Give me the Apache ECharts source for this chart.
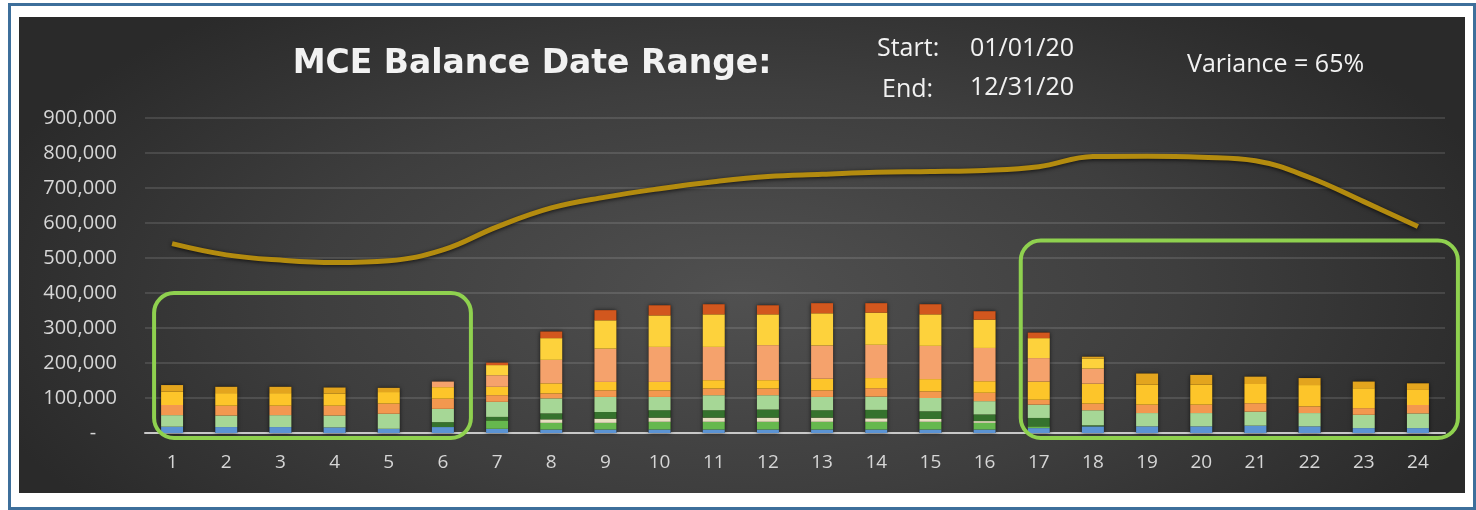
<!DOCTYPE html>
<html>
<head>
<meta charset="utf-8">
<title>MCE Balance Date Range</title>
<script src="https://cdn.jsdelivr.net/npm/echarts@6/dist/echarts.min.js"></script>
<style>
  html, body { margin: 0; padding: 0; background: #fff; width: 1476px; height: 510px; overflow: hidden; }
  #frame { position: absolute; left: 8px; top: 3px; width: 1462px; height: 501px; border: 3px solid #3d6f9b; background: #fff; }
  #chart {
    position: absolute; left: 19px; top: 17px; width: 1446px; height: 476px;
    background: radial-gradient(ellipse 55% 78% at 50% 58%, #505050 0%, #3e3e3e 55%, #2a2a2a 100%);
  }
</style>
</head>
<body>
<div id="frame"></div>
<div id="chart"></div>
<script>
// categories (periods)
const categories = ['1','2','3','4','5','6','7','8','9','10','11','12','13','14','15','16','17','18','19','20','21','22','23','24'];

// balance line
const balance = [541000, 509000, 494000, 487000, 492000, 523000, 589000, 643000, 674000, 698000, 718000, 733000,
                 739000, 745000, 747000, 750000, 761000, 790000, 791000, 788000, 778000, 730000, 661000, 590000];

// stacked segments, bottom to top
const segBlue       = [18000, 17000, 17000, 16000, 12000, 17000, 12000, 10000, 10000, 10000, 10000, 10000, 10000, 10000, 10000, 10000, 14000, 19000, 19000, 19000, 21000, 19000, 14000, 14000];
const segGreen      = [0, 0, 0, 0, 0, 0, 24000, 19000, 19000, 22000, 22000, 22000, 22000, 22000, 22000, 19000, 5000, 0, 0, 0, 0, 0, 0, 0];
const segCream      = [0, 0, 0, 0, 0, 0, 0, 10000, 12000, 12000, 12000, 12000, 12000, 10000, 8000, 5000, 0, 0, 0, 0, 0, 0, 0, 0];
const segDarkGreen  = [0, 0, 0, 0, 0, 14000, 10000, 17000, 19000, 21000, 21000, 23000, 21000, 24000, 22000, 19000, 24000, 3000, 0, 0, 0, 0, 0, 0];
const segLightGreen = [33000, 33000, 34000, 34000, 43000, 38000, 43000, 43000, 43000, 38000, 43000, 41000, 38000, 38000, 38000, 38000, 38000, 43000, 38000, 38000, 40000, 38000, 38000, 42000];
const segOrange     = [29000, 28000, 27000, 28000, 29000, 29000, 19000, 14000, 19000, 19000, 19000, 19000, 19000, 24000, 19000, 24000, 14000, 19000, 24000, 24000, 24000, 19000, 19000, 24000];
const segGold       = [38000, 36000, 36000, 35000, 33000, 33000, 24000, 29000, 24000, 24000, 24000, 24000, 33000, 29000, 35000, 33000, 52000, 57000, 57000, 57000, 55000, 61000, 57000, 43000];
const segPeach      = [0, 0, 0, 0, 0, 16000, 33000, 67000, 95000, 100000, 95000, 100000, 95000, 95000, 95000, 95000, 67000, 43000, 0, 0, 0, 0, 0, 0];
const segYellow     = [0, 0, 0, 0, 0, 0, 29000, 62000, 81000, 90000, 93000, 88000, 92000, 92000, 90000, 81000, 57000, 29000, 0, 0, 0, 0, 0, 0];
const segAmber      = [19000, 18000, 18000, 17000, 12000, 0, 0, 0, 0, 0, 0, 0, 0, 0, 0, 0, 0, 5000, 32000, 28000, 21000, 20000, 19000, 19000];
const segRust       = [0, 0, 0, 0, 0, 0, 7000, 19000, 29000, 29000, 29000, 26000, 29000, 27000, 29000, 24000, 16000, 0, 0, 0, 0, 0, 0, 0];

// y axis ticks
const yMin = 0, yMax = 900000, yStep = 100000;

// highlighted period groups (1-based category numbers, top value of box)
const highlightGroups = [
  { from: 1, to: 6, top: 400000 },
  { from: 17, to: 24, top: 550000 }
];

const segments = [
  { name: 'Blue', color: '#5b93d3', data: segBlue },
  { name: 'Green', color: '#66b84e', data: segGreen },
  { name: 'Cream', color: '#e6e0c0', data: segCream },
  { name: 'Dark Green', color: '#35722d', data: segDarkGreen },
  { name: 'Light Green', color: '#a6d796', data: segLightGreen },
  { name: 'Orange', color: '#f3984f', data: segOrange },
  { name: 'Gold', color: '#fdc52a', data: segGold },
  { name: 'Peach', color: '#f5a26c', data: segPeach },
  { name: 'Yellow', color: '#fdd23c', data: segYellow },
  { name: 'Amber', color: '#e3a51e', data: segAmber },
  { name: 'Rust', color: '#d2571e', data: segRust }
];

// stack totals, used for the dark outline behind each column
const totals = categories.map(function (c, i) {
  return segments.reduce(function (sum, s) { return sum + s.data[i]; }, 0);
});

const chart = echarts.init(document.getElementById('chart'), null, { renderer: 'canvas' });

const barSeries = segments.map(function (s) {
  return {
    name: s.name,
    type: 'bar',
    stack: 'total',
    barWidth: 22,
    barGap: '-100%',
    data: s.data,
    silent: true,
    z: 3,
    itemStyle: { color: s.color }
  };
});

const outlineSeries = {
  name: 'Outline',
  type: 'bar',
  barWidth: 22,
  barGap: '-100%',
  data: totals,
  silent: true,
  z: 2,
  itemStyle: { color: '#2a1c10', borderColor: 'rgba(25,15,5,0.85)', borderWidth: 2, shadowColor: 'rgba(0,0,0,0.6)', shadowBlur: 4 }
};

const textFill = '#f2f2f2';
const infoFont = '25px "Open Sans"';
const texts = [
  { id: 't0', text: 'MCE Balance Date Range:', x: 532 - 19, y: 47, font: 'bold 33px "DejaVu Sans"', align: 'center' },
  { id: 't1', text: 'Start:', x: 858, y: 32, font: infoFont, align: 'left' },
  { id: 't2', text: '01/01/20', x: 951, y: 32, font: infoFont, align: 'left' },
  { id: 't3', text: 'End:', x: 863, y: 73, font: infoFont, align: 'left' },
  { id: 't4', text: '12/31/20', x: 951, y: 71, font: infoFont, align: 'left' },
  { id: 't5', text: 'Variance = 65%', x: 1168, y: 48, font: infoFont, align: 'left' }
].map(function (t) {
  return {
    id: t.id, type: 'text', x: t.x, y: t.y, z: 50,
    style: { text: t.text, fill: textFill, font: t.font, align: t.align, textAlign: t.align, verticalAlign: 'middle', textVerticalAlign: 'middle' }
  };
});

const option = {
  animation: false,
  backgroundColor: 'transparent',
  grid: { left: 126, right: 20, top: 101, bottom: 60, containLabel: false, outerBoundsMode: 'none' },
  xAxis: {
    type: 'category',
    data: categories,
    axisLine: { show: true, lineStyle: { color: '#c8c8c8', width: 2 } },
    axisTick: { show: false },
    axisLabel: { color: '#d6d6d6', fontSize: 19, fontFamily: 'Open Sans', margin: 20 },
    splitLine: { show: false }
  },
  yAxis: {
    type: 'value',
    min: yMin,
    max: yMax,
    interval: yStep,
    axisLine: { show: false },
    axisTick: { show: false },
    axisLabel: {
      color: '#d6d6d6', fontSize: 20, fontFamily: 'Open Sans', margin: 28,
      formatter: function (v) { return v === 0 ? '-    ' : v.toLocaleString('en-US'); }
    },
    splitLine: { lineStyle: { color: 'rgba(255,255,255,0.16)', width: 1.5 } }
  },
  series: [outlineSeries].concat(barSeries, [{
    name: 'Balance',
    type: 'line',
    data: balance,
    smooth: 0.4,
    symbol: 'none',
    silent: true,
    z: 10,
    lineStyle: { color: '#b38b0f', width: 5, shadowColor: 'rgba(0,0,0,0.75)', shadowBlur: 4, shadowOffsetY: 1 }
  }]),
  graphic: texts
};

chart.setOption(option);

// green highlight boxes placed from the axes
const boxes = highlightGroups.map(function (g, i) {
  const left = chart.convertToPixel({ xAxisIndex: 0 }, categories[g.from - 1]) - 18;
  const right = chart.convertToPixel({ xAxisIndex: 0 }, categories[g.to - 1]) + (i === 0 ? 28 : 40);
  const top = chart.convertToPixel({ yAxisIndex: 0 }, g.top);
  const bottom = chart.convertToPixel({ yAxisIndex: 0 }, 0) + 5;
  return {
    id: 'box' + i, type: 'rect', z: 60, silent: true,
    shape: { x: left, y: top, width: right - left, height: bottom - top, r: 20 },
    style: { fill: 'none', stroke: '#8fd14f', lineWidth: 4 }
  };
});

chart.setOption({ graphic: texts.concat(boxes) });
</script>
</body>
</html>
